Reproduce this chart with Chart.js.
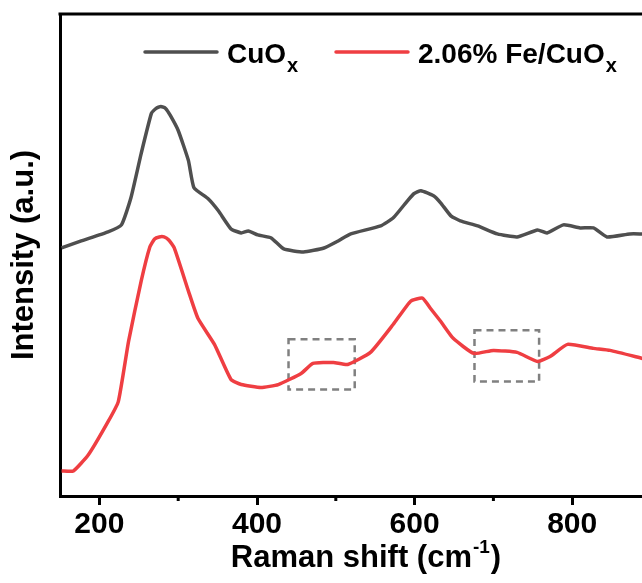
<!DOCTYPE html>
<html>
<head>
<meta charset="utf-8">
<script src="https://cdn.jsdelivr.net/npm/chart.js@4.4.1/dist/chart.umd.min.js"></script>
<style>
  html, body { margin: 0; padding: 0; background: #fff; }
  #wrap { width: 642px; height: 583px; overflow: hidden; }
  #inner { width: 662px; height: 583px; position: relative; }
</style>
</head>
<body>
<div id="wrap"><div id="inner"><canvas id="raman"></canvas></div></div>
<script>
// Raman shift (cm-1) and intensity (a.u., offset)
const cuoShift = [152, 177, 211, 228, 240, 253, 266, 272, 278, 284, 290, 300, 313, 320, 338, 351, 367, 380, 389, 401, 418, 434, 459, 485, 503, 519, 557, 573, 591, 599, 608, 624, 633, 646, 658, 680, 705, 730, 756, 768, 789, 810, 827, 844, 873, 889];
const cuoInt   = [247, 254, 263, 270, 297, 341, 381, 386, 388, 386, 379, 364, 334, 307, 296, 284, 266, 262, 264, 260, 257, 246, 243, 247, 254, 261, 269, 277, 294, 301, 304, 299, 292, 279, 274, 269, 261, 258, 265, 262, 270, 267, 267, 258, 261, 261];

const feShift = [152, 167, 186, 211, 224, 237, 253, 264, 270, 276, 282, 288, 295, 313, 325, 346, 367, 380, 405, 427, 456, 471, 497, 515, 544, 573, 595, 610, 620, 633, 649, 675, 700, 730, 756, 772, 794, 827, 848, 889];
const feInt   = [25, 25, 41, 74, 94, 154, 214, 248, 256, 258, 258, 255, 247, 204, 177, 151, 116, 111, 108, 111, 122, 132, 133, 131, 143, 171, 194, 197, 187, 174, 157, 142, 145, 143, 134, 139, 151, 147, 145, 137];

const seriesNames = ["CuO", "2.06% Fe/CuO"];
const seriesSub = ["x", "x"];
const seriesColors = ["#4f4f4f", "#ef3e42"];

const majorTicks = [200, 400, 600, 800];
const minorTicks = [300, 500, 700];

// highlighted regions: [x0, x1, y0, y1]
const boxes = [[440, 524, 106, 156], [676, 758, 114, 165]];

const FONT = '"Liberation Sans", Arial, sans-serif';

function pts(xs, ys) { return xs.map((x, i) => ({ x: x, y: ys[i] })); }

const extras = {
  id: "extras",
  beforeDatasetsDraw(chart) {
    const { ctx, scales: { x, y } } = chart;
    ctx.save();
    ctx.strokeStyle = "#808080";
    ctx.lineWidth = 2.5;
    ctx.setLineDash([7, 5]);
    boxes.forEach(b => {
      const l = x.getPixelForValue(b[0]), r = x.getPixelForValue(b[1]);
      const t = y.getPixelForValue(b[3]), bt = y.getPixelForValue(b[2]);
      ctx.strokeRect(l, t, r - l, bt - t);
    });
    ctx.restore();
  },
  afterDraw(chart) {
    const { ctx, chartArea: a, scales: { x } } = chart;
    ctx.save();
    // top frame line
    ctx.strokeStyle = "#000";
    ctx.lineWidth = 3;
    ctx.beginPath();
    ctx.moveTo(a.left - 1.5, a.top);
    ctx.lineTo(a.right + 20, a.top);
    ctx.stroke();

    // minor ticks
    minorTicks.forEach(v => {
      const px = x.getPixelForValue(v);
      ctx.beginPath();
      ctx.moveTo(px, a.bottom);
      ctx.lineTo(px, a.bottom + 5);
      ctx.stroke();
    });

    // legend
    const legX = [145, 336];
    ctx.lineCap = "round";
    seriesNames.forEach((name, i) => {
      ctx.strokeStyle = seriesColors[i];
      ctx.lineWidth = 3.5;
      ctx.beginPath();
      ctx.moveTo(legX[i], 52);
      ctx.lineTo(legX[i] + 72, 52);
      ctx.stroke();
      ctx.fillStyle = "#000";
      ctx.textBaseline = "alphabetic";
      ctx.textAlign = "left";
      ctx.font = "bold 28px " + FONT;
      const tx = legX[i] + 82;
      ctx.fillText(name, tx, 63);
      const w = ctx.measureText(name).width;
      ctx.font = "bold 20px " + FONT;
      ctx.fillText(seriesSub[i], tx + w + 1, 72);
    });

    // x title with superscript
    ctx.fillStyle = "#000";
    ctx.font = "bold 31px " + FONT;
    const main = "Raman shift (cm", sup = "-1", close = ")";
    const w1 = ctx.measureText(main).width;
    const w3 = ctx.measureText(close).width;
    ctx.font = "bold 19px " + FONT;
    const w2 = ctx.measureText(sup).width;
    const sx = 365 - (w1 + w2 + w3) / 2;
    ctx.textAlign = "left";
    ctx.font = "bold 31px " + FONT;
    ctx.fillText(main, sx, 567);
    ctx.font = "bold 19px " + FONT;
    ctx.fillText(sup, sx + w1 + 1, 553);
    ctx.font = "bold 31px " + FONT;
    ctx.fillText(close, sx + w1 + w2 + 2, 567);

    // y title
    ctx.translate(24, (a.top + a.bottom) / 2);
    ctx.rotate(-Math.PI / 2);
    ctx.textAlign = "center";
    ctx.textBaseline = "middle";
    ctx.fillText("Intensity (a.u.)", 0, 0);
    ctx.restore();
  }
};

new Chart(document.getElementById("raman"), {
  type: "line",
  data: {
    datasets: [
      { label: "CuOx", data: pts(cuoShift, cuoInt), borderColor: seriesColors[0], borderWidth: 3.5, pointRadius: 0, tension: 0.15, fill: false },
      { label: "2.06% Fe/CuOx", data: pts(feShift, feInt), borderColor: seriesColors[1], borderWidth: 3.5, pointRadius: 0, tension: 0.15, fill: false }
    ]
  },
  options: {
    responsive: true,
    maintainAspectRatio: false,
    animation: false,
    layout: { padding: { left: 52, top: 14, right: 11, bottom: 38 } },
    plugins: { legend: { display: false }, tooltip: { enabled: false } },
    scales: {
      x: {
        type: "linear",
        min: 150,
        max: 900,
        afterBuildTicks: axis => { axis.ticks = majorTicks.map(v => ({ value: v })); },
        ticks: { color: "#000", font: { family: FONT, size: 30, weight: "bold" }, padding: 2, maxRotation: 0 },
        grid: { display: true, drawOnChartArea: false, drawTicks: true, tickLength: 9, tickWidth: 3, tickColor: "#000", color: "#000" },
        border: { display: true, color: "#000", width: 3 }
      },
      y: {
        min: 0,
        max: 480,
        ticks: { display: false },
        grid: { display: false },
        border: { display: true, color: "#000", width: 3 }
      }
    }
  },
  plugins: [extras]
});
</script>
</body>
</html>
